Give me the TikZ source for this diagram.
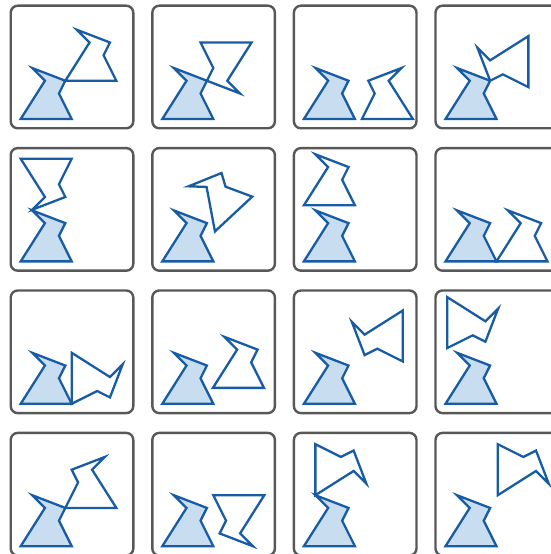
\documentclass[tikz,border=0pt]{standalone}
\usepackage{tikz}
\usepackage{xcolor}
\definecolor{pieceblue}{RGB}{24,92,166}
\definecolor{piecefill}{RGB}{200,222,240}
\definecolor{boxgray}{RGB}{88,88,88}
%% one piece, in piece units, corner (0,0) at the bottom left
\newcommand{\pieceshape}{(0,0) -- (4,0) -- (3,2) -- (3.5,3) -- (0.9,4) -- (1.9,3) -- cycle}

\begin{document}
\begin{tikzpicture}[x=1pt, y=1pt,
  panelbox/.style={draw=boxgray, line width=2.4pt, rounded corners=7pt, fill=white},
  basepiece/.style={draw=pieceblue, fill=piecefill, line width=2.3pt},
  copypiece/.style={draw=pieceblue, line width=2.3pt}]
  \useasboundingbox (0,0) rectangle (551,554);
  \clip (0,0) rectangle (551,554);

  %% col/row/shift x/shift y/rotation/mirror of the second piece
  \foreach \c/\r/\sx/\sy/\a/\m in {
      0/0/3.5/3/0/1,      1/0/7/6/180/1,      2/0/8.55/0/0/-1,   3/0/6.5/6.5/90/-1,
      0/1/0/8.05/180/-1,  1/1/4.13/2.35/43/1, 2/1/0/4.4/0/1,     3/1/4/0/0/1,
      0/2/4/4/-90/1,      1/2/3.97/1.25/0/1,  2/2/7.76/7.32/90/-1, 3/2/0.13/8.37/-90/1,
      0/3/7.5/3/0/-1,     1/3/8/4/180/1,      2/3/0.9/4/-90/-1,  3/3/4.1/4/-90/-1}{
    \begin{scope}[shift={(10.7+141.6*\c, 425.7-142.4*\r)}]
      \draw[panelbox] (0,0) rectangle (122.6,122.6);
      \begin{scope}[shift={(10,9.3)}, x=12.75pt, y=12.75pt]
        \draw[basepiece] \pieceshape;
        \begin{scope}[shift={(\sx,\sy)}, rotate=\a, xscale=\m]
          \draw[copypiece] \pieceshape;
        \end{scope}
      \end{scope}
    \end{scope}
  }
\end{tikzpicture}
\end{document}
